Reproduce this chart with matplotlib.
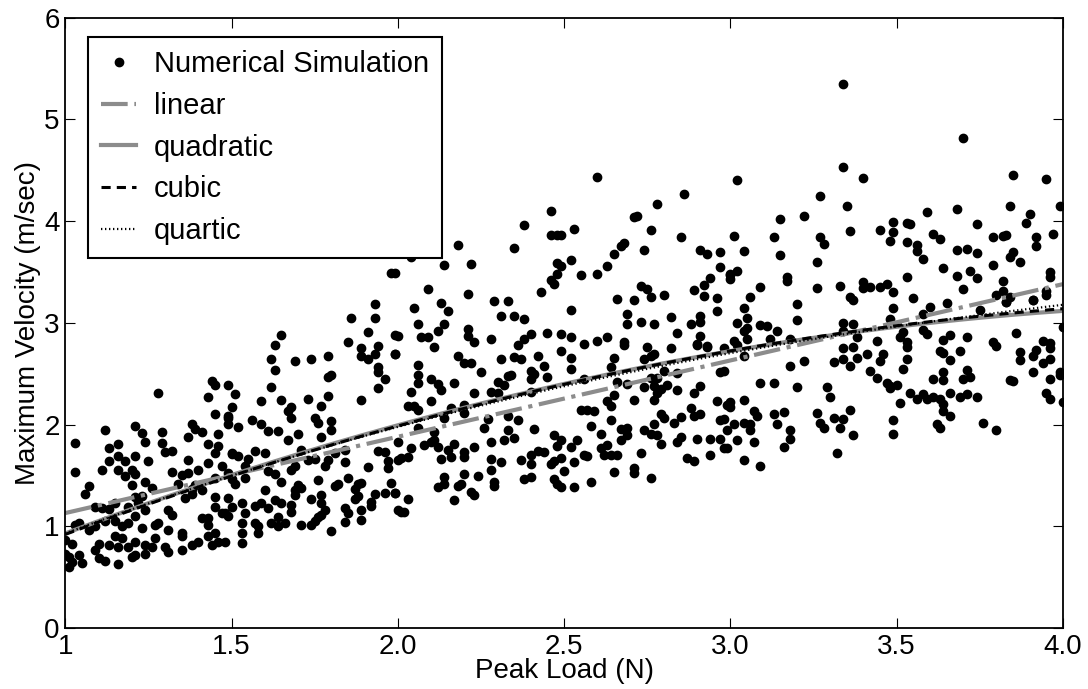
import matplotlib
matplotlib.use('Agg')
import matplotlib.pyplot as plt
import numpy as np

plt.rcParams['font.family'] = ['Liberation Sans', 'DejaVu Sans']

# peak load (N) and maximum velocity (m/sec) of the simulation runs
load = [
    1.28, 1.43, 1.50, 1.03, 1.12, 1.21, 1.23, 1.29, 1.38, 1.39, 1.41, 1.45, 1.49, 1.49, 1.46, 1.37,
    1.24, 1.29, 1.13, 1.16, 1.16, 1.18, 1.21, 1.30, 1.32, 1.13, 1.11, 1.16, 1.18, 1.20, 1.21, 1.25,
    1.32, 1.37, 1.35, 1.37, 1.40, 1.43, 1.46, 1.45, 1.43, 1.47, 1.50, 1.03, 1.07, 1.06, 1.20, 1.24,
    1.26, 1.34, 1.38, 1.39, 1.41, 1.45, 1.49, 1.50, 1.09, 1.11, 1.13, 1.15, 1.19, 1.21, 1.23, 1.22,
    1.24, 1.31, 1.32, 1.36, 1.38, 1.45, 1.45, 1.49, 1.50, 1.47, 1.49, 1.03, 1.04, 1.07, 1.09, 1.12,
    1.15, 1.17, 1.19, 1.15, 1.17, 1.21, 1.23, 1.27, 1.28, 1.31, 1.35, 1.35, 1.41, 1.43, 1.43, 1.00,
    1.02, 1.10, 1.13, 1.16, 1.19, 1.21, 1.24, 1.27, 1.26, 1.30, 1.31, 1.35, 1.38, 1.40, 1.43, 1.44,
    1.46, 1.48, 1.45, 1.00, 1.01, 1.04, 1.05, 1.09, 1.10, 1.12, 1.16, 1.20, 1.21, 1.24, 1.01, 1.02,
    1.44, 1.45,
    1.98, 1.93, 1.93, 1.86, 1.65, 1.63, 1.62, 1.63, 1.69, 1.74, 1.79, 1.79, 1.85, 1.89, 1.89, 1.91,
    1.94, 1.93, 1.91, 1.94, 1.94, 1.96, 1.99, 1.99,
    1.49, 1.51, 1.49, 1.52, 1.56, 1.59, 1.62, 1.65, 1.67, 1.68, 1.68, 1.59, 1.61, 1.64, 1.67, 1.70,
    1.73, 1.75, 1.76, 1.77, 1.79, 1.80, 1.80, 1.80, 1.77, 1.94, 1.89, 1.50, 1.52, 1.55, 1.57, 1.60,
    1.54, 1.54, 1.51, 1.61, 1.63, 1.65, 1.68, 1.69, 1.71, 1.73, 1.75, 1.78, 1.79, 1.81, 1.84, 1.84,
    1.91, 1.94, 1.96, 1.97, 1.97, 2.00, 2.00, 1.76, 1.81, 1.82, 1.85, 1.88, 1.87, 1.89, 1.88, 1.87,
    1.93, 1.92, 1.92, 1.96, 1.98, 1.99, 1.53, 1.54, 1.57, 1.59, 1.60, 1.61, 1.63, 1.64, 1.65, 1.68,
    1.68, 1.69, 1.70, 1.71, 1.69, 1.74, 1.77, 1.77, 1.78, 1.77, 1.76, 1.84, 1.85, 1.84, 1.89, 1.89,
    1.48, 1.53, 1.53, 1.53, 1.57, 1.58, 1.58, 1.62, 1.64, 1.66, 1.71, 1.74, 1.75, 1.80, 2.00,
    2.46, 2.38, 2.46, 2.48, 2.35, 2.18, 2.14, 2.22, 2.04, 1.99, 2.48, 2.49, 2.48, 2.46, 2.47, 2.43,
    2.09, 2.21, 2.13, 2.15, 2.05, 2.06, 2.14, 2.12, 2.07, 2.09, 2.00, 2.29, 2.33, 2.31, 2.35, 2.38,
    2.21, 2.21, 2.23, 2.28, 2.36, 2.38, 2.40, 2.45, 2.49, 2.11,
    1.99, 2.18, 2.20, 2.22, 2.25, 2.31, 2.35, 2.37, 2.42, 2.44, 2.49, 2.06, 2.06, 2.06, 2.10, 2.12,
    2.13, 2.17, 2.04, 2.30, 2.32, 2.33, 2.34, 2.40, 2.41, 2.40, 2.45, 2.28, 2.30, 2.23, 2.40, 2.03,
    2.05, 2.06, 2.10, 2.16, 2.20, 2.20, 2.14, 2.06, 2.11, 2.27, 2.33, 2.36, 2.26, 2.33, 2.35, 2.32,
    2.28, 2.41, 2.47, 2.49, 2.48, 2.04, 2.03, 2.01, 2.08, 2.10, 2.12, 2.11, 2.17, 2.15, 2.16, 2.13,
    2.20, 2.20, 2.23, 2.28, 2.28, 2.31, 2.37, 2.40, 2.40, 2.42, 2.44, 2.46, 2.47, 2.49, 2.14, 2.14,
    2.12, 2.18, 2.19, 2.20, 2.24, 2.22, 2.23, 2.29, 2.29, 2.17, 2.38, 2.40, 2.47, 2.48, 2.49, 1.99,
    2.03, 2.01, 2.02,
    2.60, 2.86, 2.78, 2.71, 2.72, 2.53, 2.49, 2.76, 2.85, 2.74, 2.67, 2.68, 2.65, 2.91, 2.93, 2.97,
    2.97, 2.52, 2.55, 2.60, 2.63, 3.00, 3.00, 2.94, 2.92, 2.89, 2.92, 2.96, 2.96, 2.73, 2.75, 2.76,
    2.80, 2.71, 2.66, 2.52, 2.69, 2.69, 2.73, 2.77, 2.82, 2.91, 2.91, 2.88, 2.84, 2.91, 2.90, 2.93,
    2.52, 2.63, 2.60, 2.56, 2.68, 2.75, 2.82, 2.98,
    2.52, 2.52, 2.68, 2.65, 2.64, 2.74, 2.76, 2.77, 2.90, 2.93, 2.97, 2.84, 2.80, 2.56, 2.66, 2.69,
    2.74, 2.76, 2.78, 2.77, 2.81, 2.78, 2.79, 2.77, 2.84, 2.89, 2.91, 2.65, 2.63, 2.64, 2.71, 2.55,
    2.57, 2.59, 2.64, 2.58, 2.61, 2.67, 2.69, 2.69, 2.67, 2.77, 2.79, 2.80, 2.74, 2.76, 2.78, 2.79,
    2.83, 2.85, 2.88, 2.89, 2.91, 2.96, 2.99, 2.97, 2.99, 2.84, 2.85, 2.90, 2.94, 2.97, 2.98, 2.94,
    2.87, 2.89, 2.54, 2.52, 2.53, 2.56, 2.57, 2.61, 2.63, 2.62, 2.64, 2.66, 2.73, 2.50, 2.65, 2.71,
    2.71, 2.76, 2.58, 2.53,
    3.34, 3.34, 3.40, 3.02, 3.27, 3.35, 3.22, 3.15, 3.01, 3.13, 3.27, 3.28, 3.36, 3.45, 3.49, 3.49,
    3.48, 3.04, 3.15, 3.26, 3.02, 3.00, 3.17, 3.17, 3.09, 3.26, 3.33, 3.06, 3.20, 3.04, 3.36, 3.37,
    3.40, 3.40, 3.42, 3.45, 3.47, 3.49, 3.49,
    3.02, 3.04, 3.05, 3.05, 3.09, 3.11, 3.14, 3.20, 3.05, 3.12, 3.18, 3.01, 3.02, 3.04, 3.34, 3.37,
    3.34, 3.38, 3.44, 3.48, 3.34, 3.37, 3.34, 3.36, 3.38, 3.41, 3.31, 3.46, 3.45, 3.42, 3.44, 3.47,
    3.48, 3.18, 3.22, 3.09, 3.13, 3.20, 3.29, 3.30, 2.98, 3.00, 3.00, 3.04, 2.98, 3.01, 2.99, 3.02,
    3.07, 3.08, 3.04, 3.06, 3.06, 3.07, 3.13, 3.14, 3.16, 3.18, 3.18, 3.16, 3.26, 3.27, 3.28, 3.31,
    3.34, 3.33, 3.36, 3.37, 3.32, 3.04, 3.09, 3.49, 3.49,
    3.70, 3.85, 3.95, 3.84, 3.99, 3.59, 3.68, 3.90, 3.53, 3.54, 3.74, 3.89, 3.53, 3.61, 3.63, 3.56,
    3.56, 3.58, 3.68, 3.71, 3.74, 3.79, 3.82, 3.83, 3.92, 3.92, 3.97, 3.84, 3.85, 3.87, 3.79, 3.64,
    3.72, 3.68, 3.74, 3.70, 3.53, 3.96, 3.96, 3.82, 3.82, 3.80, 3.84, 3.83, 3.91, 3.95, 3.95, 3.55,
    3.60, 3.65, 3.75, 3.83, 3.91,
    3.58, 3.52, 3.51, 3.53, 3.53, 3.58, 3.59, 3.64, 3.66, 3.71, 3.63, 3.64, 3.66, 3.69, 3.79, 3.80,
    3.86, 3.87, 3.87, 3.91, 3.92, 3.94, 3.96, 3.96, 3.96, 3.94, 3.91, 4.00, 3.53, 3.52, 3.64, 3.64,
    3.61, 3.71, 3.70, 3.72, 3.84, 3.85, 3.96, 3.99, 3.99, 3.48, 3.50, 3.54, 3.56, 3.58, 3.59, 3.61,
    3.63, 3.64, 3.66, 3.69, 3.71, 3.74, 3.64, 3.66, 3.51, 3.62, 3.63, 3.76, 3.80, 3.95, 3.96, 4.00,
]
velocity = [
    2.31, 2.27, 2.17, 1.82, 1.95, 1.99, 1.92, 1.93, 2.01, 1.96, 1.93, 2.10, 2.08, 2.01, 1.91, 1.88,
    1.83, 1.82, 1.77, 1.81, 1.69, 1.64, 1.69, 1.73, 1.74, 1.64, 1.55, 1.55, 1.49, 1.55, 1.51, 1.64,
    1.53, 1.65, 1.50, 1.52, 1.55, 1.81, 1.79, 1.72, 1.62, 1.59, 1.71, 1.53, 1.40, 1.32, 1.41, 1.44,
    1.38, 1.42, 1.37, 1.41, 1.36, 1.47, 1.52, 1.46, 1.19, 1.18, 1.17, 1.23, 1.19, 1.29, 1.30, 1.23,
    1.16, 1.16, 1.11, 1.28, 1.32, 1.29, 1.19, 1.28, 1.19, 1.13, 1.10, 1.01, 1.03, 0.96, 1.00, 1.05,
    1.05, 1.00, 1.03, 0.90, 0.88, 1.10, 0.98, 1.01, 1.03, 0.96, 0.93, 0.90, 1.08, 1.08, 1.01, 0.87,
    0.83, 0.83, 0.82, 0.80, 0.80, 0.85, 0.82, 0.88, 0.80, 0.80, 0.75, 0.77, 0.82, 0.85, 0.90, 0.82,
    0.85, 0.85, 0.93, 0.73, 0.70, 0.72, 0.64, 0.77, 0.69, 0.66, 0.63, 0.70, 0.72, 0.73, 0.60, 0.65,
    2.43, 2.39,
    3.49, 3.18, 3.05, 3.05, 2.88, 2.78, 2.64, 2.54, 2.62, 2.64, 2.67, 2.47, 2.81, 2.75, 2.67, 2.91,
    2.77, 2.69, 2.64, 2.57, 2.52, 2.45, 2.88, 2.69,
    2.39, 2.30, 2.06, 1.98, 2.04, 2.23, 2.37, 2.24, 2.13, 2.17, 2.06, 2.01, 1.94, 1.94, 1.85, 1.91,
    2.25, 2.06, 2.02, 2.18, 2.28, 2.49, 2.03, 1.95, 1.88, 2.36, 2.24, 1.72, 1.69, 1.66, 1.74, 1.72,
    1.59, 1.47, 1.42, 1.54, 1.51, 1.44, 1.55, 1.59, 1.75, 1.65, 1.66, 1.59, 1.65, 1.72, 1.75, 1.63,
    1.58, 1.74, 1.73, 1.64, 1.57, 1.65, 1.83, 1.45, 1.40, 1.42, 1.47, 1.42, 1.37, 1.43, 1.30, 1.27,
    1.32, 1.24, 1.20, 1.33, 1.43, 1.33, 1.23, 1.13, 1.20, 1.23, 1.36, 1.18, 1.26, 1.09, 1.23, 1.21,
    1.14, 1.36, 1.41, 1.38, 1.31, 1.27, 1.31, 1.23, 1.16, 1.11, 1.09, 1.18, 1.13, 1.04, 1.16, 1.06,
    1.13, 1.03, 0.93, 0.84, 1.03, 1.00, 0.93, 1.03, 1.00, 1.03, 1.01, 1.01, 1.05, 0.95, 1.16,
    4.10, 3.96, 3.86, 3.86, 3.74, 3.76, 3.57, 3.58, 3.65, 3.49, 3.59, 3.56, 3.48, 3.42, 3.38, 3.30,
    3.33, 3.28, 3.19, 3.12, 3.15, 2.99, 2.99, 2.92, 2.86, 2.86, 2.87, 3.21, 3.21, 3.07, 3.07, 3.04,
    2.94, 2.87, 2.81, 2.84, 2.78, 2.84, 2.89, 2.90, 2.89, 2.76,
    2.69, 2.67, 2.60, 2.60, 2.52, 2.64, 2.66, 2.64, 2.67, 2.58, 2.72, 2.59, 2.49, 2.41, 2.45, 2.40,
    2.34, 2.41, 2.32, 2.42, 2.39, 2.48, 2.49, 2.53, 2.50, 2.45, 2.47, 2.32, 2.31, 2.31, 2.32, 2.18,
    2.18, 2.14, 2.23, 2.16, 2.19, 2.11, 2.06, 1.97, 1.93, 2.05, 2.08, 2.04, 1.97, 1.95, 1.87, 1.85,
    1.83, 1.96, 1.90, 1.85, 1.79, 1.77, 1.68, 1.67, 1.80, 1.83, 1.78, 1.85, 1.81, 1.75, 1.68, 1.66,
    1.73, 1.68, 1.78, 1.66, 1.55, 1.63, 1.65, 1.61, 1.70, 1.74, 1.73, 1.61, 1.64, 1.67, 1.48, 1.42,
    1.39, 1.40, 1.42, 1.51, 1.49, 1.34, 1.31, 1.44, 1.40, 1.26, 1.46, 1.48, 1.46, 1.42, 1.39, 1.33,
    1.27, 1.14, 1.14,
    4.43, 4.27, 4.17, 4.04, 4.05, 3.92, 3.86, 3.91, 3.84, 3.72, 3.75, 3.78, 3.68, 3.72, 3.68, 3.70,
    3.55, 3.62, 3.47, 3.48, 3.56, 3.47, 3.43, 3.44, 3.37, 3.32, 3.26, 3.24, 3.12, 3.36, 3.33, 3.25,
    3.27, 3.22, 3.23, 3.13, 3.09, 2.99, 3.01, 2.99, 3.06, 3.07, 3.01, 2.99, 2.90, 2.87, 2.78, 2.77,
    2.86, 2.86, 2.82, 2.79, 2.81, 2.76, 2.75, 2.75,
    2.65, 2.55, 2.78, 2.65, 2.57, 2.64, 2.67, 2.69, 2.79, 2.76, 2.52, 2.51, 2.53, 2.45, 2.42, 2.40,
    2.37, 2.46, 2.46, 2.38, 2.39, 2.31, 2.35, 2.24, 2.34, 2.31, 2.38, 2.29, 2.23, 2.18, 2.24, 2.14,
    2.14, 2.13, 2.04, 1.99, 1.91, 1.96, 1.97, 1.90, 1.85, 2.01, 2.10, 2.06, 1.95, 1.91, 1.90, 1.81,
    2.02, 2.07, 2.16, 2.08, 2.10, 2.23, 2.19, 2.04, 1.95, 1.83, 1.88, 1.86, 1.86, 1.86, 1.77, 1.70,
    1.67, 1.64, 1.85, 1.78, 1.63, 1.70, 1.69, 1.77, 1.80, 1.70, 1.70, 1.70, 1.72, 1.54, 1.53, 1.57,
    1.52, 1.47, 1.44, 1.39,
    5.35, 4.53, 4.42, 4.40, 4.25, 4.15, 4.05, 4.02, 3.85, 3.84, 3.84, 3.77, 3.90, 3.91, 3.99, 3.89,
    3.80, 3.71, 3.67, 3.60, 3.51, 3.48, 3.45, 3.41, 3.35, 3.34, 3.36, 3.25, 3.18, 3.15, 3.25, 3.22,
    3.40, 3.34, 3.35, 3.35, 3.38, 3.30, 3.15,
    3.00, 2.92, 2.95, 3.05, 2.98, 2.97, 2.92, 3.03, 2.84, 2.84, 2.84, 2.82, 2.78, 2.67, 3.00, 2.99,
    2.92, 2.86, 2.82, 3.04, 2.75, 2.76, 2.64, 2.58, 2.65, 2.69, 2.61, 2.69, 2.62, 2.53, 2.46, 2.41,
    2.36, 2.58, 2.62, 2.41, 2.41, 2.37, 2.37, 2.27, 2.53, 2.22, 2.17, 2.24, 2.05, 2.01, 1.77, 1.85,
    2.13, 2.08, 2.02, 2.01, 1.95, 1.83, 2.10, 2.01, 2.12, 1.95, 1.86, 1.78, 2.11, 2.02, 1.97, 2.06,
    2.05, 1.97, 2.14, 1.90, 1.72, 1.65, 1.59, 2.04, 1.91,
    4.82, 4.45, 4.41, 4.15, 4.15, 4.09, 4.12, 4.07, 3.98, 3.97, 3.97, 3.98, 3.79, 3.87, 3.82, 3.76,
    3.71, 3.63, 3.72, 3.73, 3.69, 3.84, 3.85, 3.86, 3.84, 3.75, 3.87, 3.65, 3.70, 3.60, 3.57, 3.54,
    3.51, 3.46, 3.44, 3.33, 3.45, 3.50, 3.45, 3.41, 3.31, 3.27, 3.25, 3.20, 3.22, 3.27, 3.31, 3.24,
    3.16, 3.19, 3.13, 3.20, 3.22,
    3.09, 2.91, 2.86, 2.81, 2.76, 2.93, 2.89, 2.83, 2.88, 2.86, 2.72, 2.70, 2.63, 2.72, 2.81, 2.77,
    2.90, 2.71, 2.63, 2.67, 2.73, 2.82, 2.80, 2.75, 2.64, 2.60, 2.52, 2.96, 2.64, 2.55, 2.52, 2.44,
    2.45, 2.54, 2.45, 2.47, 2.44, 2.43, 2.45, 2.52, 2.49, 2.38, 2.39, 2.31, 2.25, 2.30, 2.25, 2.27,
    2.25, 2.20, 2.31, 2.27, 2.30, 2.27, 2.13, 2.08, 2.21, 2.01, 1.97, 2.02, 1.95, 2.31, 2.25, 2.22,
]

# polynomial fits, coefficients in powers of (load - 1), lowest order first
fit_names = ['linear', 'quadratic', 'cubic', 'quartic']
fit_coefs = [
    [1.13, 0.75],
    [0.93, 1.23, -0.167],
    [0.92, 1.23, -0.165, 0.0005],
    [0.93, 1.22, -0.175, 0.0, 0.002],
]

x = np.array(load)
y = np.array(velocity)
xs = np.linspace(1, 4, 200)

fig = plt.figure(figsize=(10.88, 6.89), dpi=100)
ax = fig.add_axes([0.06, 0.0885, 0.917, 0.886])

ax.plot(x, y, 'o', color='black', markersize=6, label='Numerical Simulation')

styles = [dict(color='#8c8c8c', linestyle='-.', linewidth=3),
          dict(color='#8c8c8c', linestyle='-', linewidth=3),
          dict(color='black', linestyle='--', linewidth=2.2, dashes=(3, 2)),
          dict(color='black', linestyle=':', linewidth=1.6, dashes=(0.6, 1.2))]
for name, coef, st in zip(fit_names, fit_coefs, styles):
    fit = np.polynomial.Polynomial(coef)
    ax.plot(xs, fit(xs - 1), label=name, **st)

ax.set_xlim(1, 4)
ax.set_ylim(0, 6)
ax.set_xticks([1, 1.5, 2, 2.5, 3, 3.5, 4])
ax.set_xticklabels(['1', '1.5', '2.0', '2.5', '3.0', '3.5', '4.0'])
ax.set_yticks(range(7))
ax.tick_params(direction='in', length=7, labelsize=20, top=True, right=True, pad=4)
ax.set_xlabel('Peak Load (N)', fontsize=20, labelpad=-1)
ax.set_ylabel('Maximum Velocity (m/sec)', fontsize=20, labelpad=2)
for s in ax.spines.values():
    s.set_linewidth(1.3)

leg = ax.legend(loc='upper left', bbox_to_anchor=(0.023, 0.968), borderaxespad=0,
                fontsize=21, handlelength=1.2, handletextpad=0.6, borderpad=0.45,
                labelspacing=0.47, fancybox=False, edgecolor='black', framealpha=1,
                numpoints=1)
leg.get_frame().set_linewidth(1.5)

plt.savefig('out.png', dpi=100)
